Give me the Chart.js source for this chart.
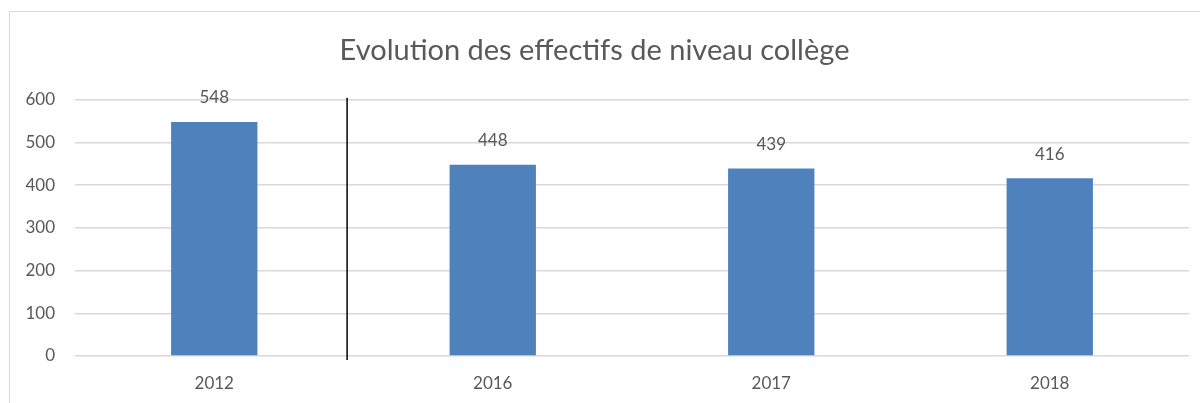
<!DOCTYPE html>
<html>
<head>
<meta charset="utf-8">
<script src="https://cdn.jsdelivr.net/npm/chart.js@4/dist/chart.umd.min.js"></script>
<style>
  body { margin: 0; background: #fff; }
  #wrap { position: relative; width: 1200px; height: 403px; overflow: hidden; }
  #frame { position: absolute; left: 9px; top: 11px; width: 1300px; height: 500px; border: 1px solid #d9d9d9; }
  canvas { position: absolute; left: 0; top: 0; }
</style>
</head>
<body>
<div id="wrap">
  <div id="frame"></div>
  <canvas id="chart" width="1200" height="403"></canvas>
</div>
<script>
// chart data
const years = ["2012", "2016", "2017", "2018"];
const effectifs = [548, 448, 439, 416];
const yTicks = [0, 100, 200, 300, 400, 500, 600];

const textColor = "#595959";
const fontFamily = "Lato, 'Open Sans', sans-serif";

// separator between 2012 and the later years (in category units)
const separatorAt = 0.477;

// value labels above the bars + the black separator line
const extras = {
  id: "extras",
  afterDatasetsDraw(chart) {
    const ctx = chart.ctx;
    const meta = chart.getDatasetMeta(0);
    ctx.save();
    ctx.fillStyle = textColor;
    ctx.font = "17px " + fontFamily;
    ctx.textAlign = "center";
    ctx.textBaseline = "middle";
    meta.data.forEach((bar, i) => {
      ctx.fillText(effectifs[i], bar.x, bar.y - 24);
    });

    const x = chart.scales.x.getPixelForValue(separatorAt);
    const area = chart.chartArea;
    ctx.strokeStyle = "#000";
    ctx.lineWidth = 1.5;
    ctx.beginPath();
    ctx.moveTo(x, area.top - 2);
    ctx.lineTo(x, area.bottom + 4);
    ctx.stroke();
    ctx.restore();
  },
};

const ctx = document.getElementById("chart").getContext("2d");
window.myChart = new Chart(ctx, {
  type: "bar",
  data: {
    labels: years,
    datasets: [
      {
        label: "Effectifs",
        data: effectifs,
        backgroundColor: "#4F81BD",
        borderWidth: 0,
        categoryPercentage: 1,
        barPercentage: 0.31,
      },
    ],
  },
  options: {
    responsive: false,
    animation: false,
    layout: { padding: { left: 0, right: 11, bottom: 12, top: 0 } },
    plugins: {
      legend: { display: false },
      tooltip: { enabled: false },
      title: {
        display: true,
        text: "Evolution des effectifs de niveau collège",
        color: textColor,
        font: { family: fontFamily, size: 29, weight: "normal" },
        padding: { top: 33, bottom: 32 },
      },
    },
    scales: {
      x: {
        afterFit(axis) {
          axis.height = 35;
        },
        grid: { display: false, drawTicks: false },
        border: { display: false },
        ticks: { color: textColor, font: { family: fontFamily, size: 17 }, padding: 17 },
      },
      y: {
        min: 0,
        max: 600,
        afterBuildTicks(axis) {
          axis.ticks = yTicks.map((v) => ({ value: v }));
        },
        afterFit(axis) {
          axis.width = 75;
        },
        grid: { color: "#d9d9d9", lineWidth: 1.5, drawTicks: false },
        border: { display: false },
        ticks: { color: textColor, font: { family: fontFamily, size: 17 }, padding: 20 },
      },
    },
  },
  plugins: [extras],
});
</script>
</body>
</html>
